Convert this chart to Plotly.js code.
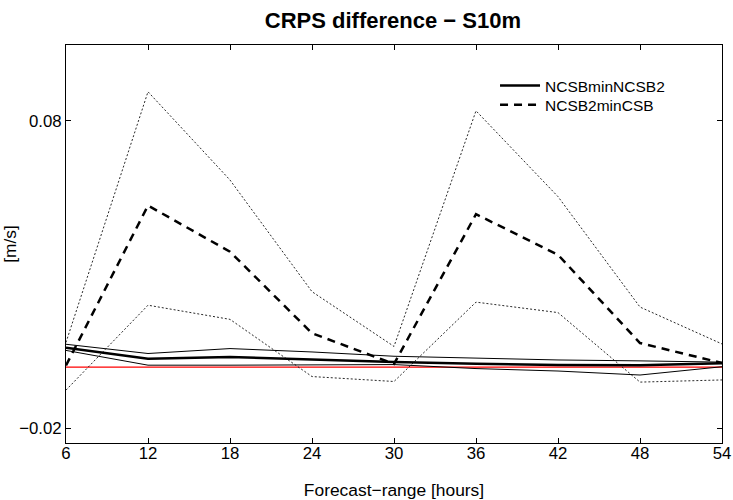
<!DOCTYPE html>
<html>
<head>
<meta charset="utf-8">
<script src="https://cdn.plot.ly/plotly-3.0.1.min.js"></script>
<style>
html,body{margin:0;padding:0;background:#fff;}
#chart{width:733px;height:500px;}
</style>
</head>
<body>
<div id="chart"></div>
<script>
// Forecast range (hours)
const hours = [6, 12, 18, 24, 30, 36, 42, 48, 54];

// NCSBminNCSB2 (solid) with its confidence band (thin solid)
const ncsbMinNcsb2      = [0.0063, 0.0027, 0.0033, 0.0024, 0.0016, 0.0011, 0.0007, 0.0006, 0.0012];
const ncsbMinNcsb2Upper = [0.0074, 0.0044, 0.0060, 0.0049, 0.0035, 0.0028, 0.0023, 0.0020, 0.0016];
const ncsbMinNcsb2Lower = [0.0054, 0.0006, 0.0006, 0.0006, 0.0008, -0.0005, -0.0013, -0.0026, 0.0001];

// NCSB2minCSB (dashed) with its confidence band (dotted)
const ncsb2MinCsb      = [0.0005, 0.0525, 0.0375, 0.0110, 0.0010, 0.0497, 0.0365, 0.0078, 0.0013];
const ncsb2MinCsbUpper = [0.0080, 0.0895, 0.0608, 0.0245, 0.0067, 0.0833, 0.0554, 0.0195, 0.0075];
const ncsb2MinCsbLower = [-0.0075, 0.0201, 0.0155, -0.0031, -0.0047, 0.0211, 0.0177, -0.0049, -0.0042];

// Zero reference line
const zeroLine = [0, 0, 0, 0, 0, 0, 0, 0, 0];

// Tick labels
const xTicks = [6, 12, 18, 24, 30, 36, 42, 48, 54];
const yTickVals = [-0.02, 0.08];
const yTickText = ['\u22120.02', '0.08'];

const FONT = 'Liberation Sans, Arial, Helvetica, sans-serif';

const traces = [
  {x: hours, y: zeroLine, mode: 'lines', line: {color: '#ff0000', width: 1.2}, showlegend: false, hoverinfo: 'skip'},
  {x: hours, y: ncsb2MinCsbUpper, mode: 'lines', line: {color: '#111', width: 0.9, dash: '2px,2px'}, showlegend: false},
  {x: hours, y: ncsb2MinCsbLower, mode: 'lines', line: {color: '#111', width: 0.9, dash: '2px,2px'}, showlegend: false},
  {x: hours, y: ncsbMinNcsb2Upper, mode: 'lines', line: {color: '#000', width: 1}, showlegend: false},
  {x: hours, y: ncsbMinNcsb2Lower, mode: 'lines', line: {color: '#000', width: 1}, showlegend: false},
  {x: hours, y: ncsbMinNcsb2, name: 'NCSBminNCSB2', mode: 'lines', line: {color: '#000', width: 2.5}, legend: 'legend'},
  {x: hours, y: ncsb2MinCsb, name: 'NCSB2minCSB', mode: 'lines', line: {color: '#000', width: 2.5, dash: '8px,6px'}, legend: 'legend2'}
];

const legendCommon = {
  x: 0.654, xanchor: 'left', yanchor: 'middle',
  bgcolor: 'rgba(0,0,0,0)', borderwidth: 0,
  font: {family: FONT, size: 15.5, color: '#000'},
  itemwidth: 40
};

const layout = {
  width: 733,
  height: 500,
  margin: {l: 66, r: 11, t: 45, b: 57, pad: 0},
  paper_bgcolor: '#fff',
  plot_bgcolor: '#fff',
  font: {family: FONT, color: '#000', size: 16},
  title: {
    text: '<b>CRPS difference \u2212 S10m</b>',
    font: {family: FONT, size: 22, color: '#000'},
    x: 0.536, xanchor: 'center', y: 0.96, yanchor: 'middle'
  },
  showlegend: true,
  legend: Object.assign({}, legendCommon, {y: 0.897}),
  legend2: Object.assign({}, legendCommon, {y: 0.849}),
  xaxis: {
    range: [6, 54],
    tickmode: 'array', tickvals: xTicks, ticktext: xTicks.map(String),
    ticks: 'inside', ticklen: 5, tickwidth: 1, tickcolor: '#000',
    ticklabelstandoff: -5,
    showline: true, linecolor: '#000', linewidth: 1, mirror: 'ticks',
    showgrid: false, zeroline: false,
    tickfont: {family: FONT, size: 16.8, color: '#000'},
    title: {text: 'Forecast\u2212range [hours]', font: {family: FONT, size: 17.4, color: '#000'}, standoff: 21}
  },
  yaxis: {
    range: [-0.0247, 0.1047],
    tickmode: 'array', tickvals: yTickVals, ticktext: yTickText,
    ticks: 'inside', ticklen: 5, tickwidth: 1, tickcolor: '#000',
    showline: true, linecolor: '#000', linewidth: 1, mirror: 'ticks',
    showgrid: false, zeroline: false,
    tickfont: {family: FONT, size: 16.8, color: '#000'},
    title: {text: '[m/s]', font: {family: FONT, size: 17.4, color: '#000'}, standoff: 0}
  }
};

Plotly.newPlot('chart', traces, layout, {staticPlot: true, displayModeBar: false});
</script>
</body>
</html>
